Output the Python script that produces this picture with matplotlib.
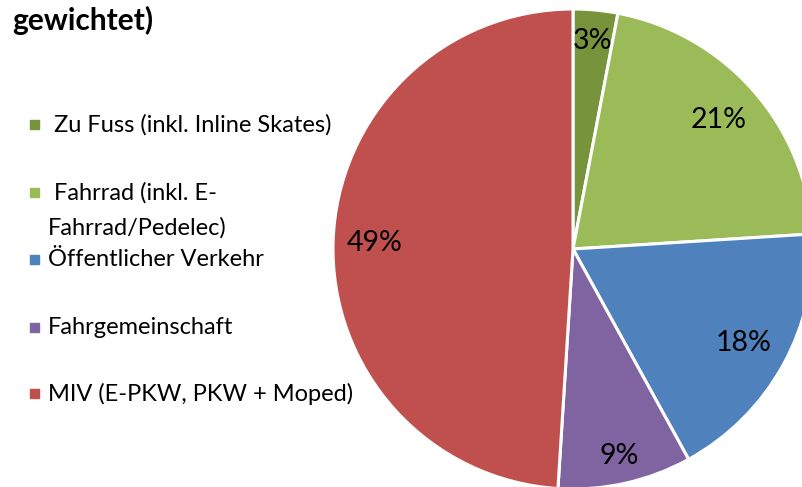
import numpy as np
import matplotlib.pyplot as plt
from matplotlib.patches import Rectangle

# ==============================
# DATA
# ==============================

categories = [
    " Zu Fuss (inkl. Inline Skates)",
    " Fahrrad (inkl. E-\nFahrrad/Pedelec)",
    "Öffentlicher Verkehr",
    "Fahrgemeinschaft",
    "MIV (E-PKW, PKW + Moped)",
]
shares = [3, 21, 18, 9, 49]
colors = ["#77933C", "#9BBB59", "#4F81BD", "#8064A2", "#C0504D"]
title = "gewichtet)"

# ==============================
# LAYOUT (pixels)
# ==============================

W, H = 802, 487
CX, CY, R = 573, 249, 240          # pie centre / radius
legend_y = [124, 192, 259, 327, 393]
marker_x, text_x = 34.5, 48
pct_dist = [0.87, 0.81, 0.81, 0.885, 0.825]   # excel "best fit" label radii

plt.rcParams["font.family"] = ["Lato", "DejaVu Sans"]

fig = plt.figure(figsize=(W / 100, H / 100), dpi=100)

# pie axes spans the whole figure, scaled so radius 1 == R px
ax = fig.add_axes([0, 0, 1, 1])
wedges, _, autotexts = ax.pie(
    shares, colors=colors, startangle=90, counterclock=False,
    autopct="%1.0f%%", pctdistance=0.84,
    wedgeprops=dict(edgecolor="white", linewidth=2.2),
    textprops=dict(fontsize=20.5, color="black"),
)
for w, t, d in zip(wedges, autotexts, pct_dist):
    mid = np.deg2rad((w.theta1 + w.theta2) / 2)
    t.set_position((d * np.cos(mid), d * np.sin(mid)))

ax.set_aspect("auto")
ax.set_xlim(-CX / R, (W - CX) / R)
ax.set_ylim(-(H - CY) / R, CY / R)
ax.axis("off")

# overlay axes in pixel coordinates for legend + title
ov = fig.add_axes([0, 0, 1, 1], facecolor="none")
ov.set_xlim(0, W)
ov.set_ylim(H, 0)
ov.axis("off")

for lab, col, y in zip(categories, colors, legend_y):
    ov.add_patch(Rectangle((marker_x - 4.5, y - 4.5), 9, 9, color=col))
    ov.text(text_x, y - 10, lab, fontsize=17, va="top", ha="left",
            linespacing=1.8)

ov.text(12, 6, title, fontsize=21.5, fontweight="bold", va="top", ha="left")

fig.savefig("out.png", dpi=100)
